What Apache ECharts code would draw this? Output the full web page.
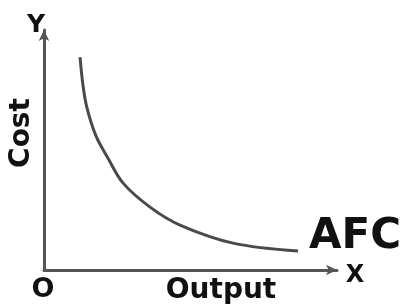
<!DOCTYPE html>
<html>
<head>
<meta charset="utf-8">
<script src="https://cdn.jsdelivr.net/npm/echarts@6/dist/echarts.min.js"></script>
<style>
  html, body { margin: 0; padding: 0; background: #fff; }
  #main { width: 401px; height: 307px; }
</style>
</head>
<body>
<div id="main"></div>
<script>
// AFC curve (output, cost) on a 0-100 scale
var output = [12.3, 13.3, 14.6, 17.7, 21.8, 27.0, 36.2, 46.4, 64.5, 86.7];
var cost = [88.7, 77.0, 67.9, 56.0, 46.7, 36.2, 26.2, 18.7, 11.2, 7.9];
var curveName = 'AFC';
var xName = 'Output';
var yName = 'Cost';

var chartDom = document.getElementById('main');
var myChart = echarts.init(chartDom);

var font = '"DejaVu Sans", Verdana, sans-serif';
var axisColor = '#555';
var textColor = '#111';

var option = {
  animation: false,
  grid: { left: 44, right: 64, top: 30, bottom: 37 },
  xAxis: {
    type: 'value',
    min: 0,
    max: 100,
    axisLine: { lineStyle: { color: axisColor, width: 3 }, symbol: ['none', 'arrow'], symbolSize: [8, 11] },
    axisTick: { show: false },
    axisLabel: { show: false },
    splitLine: { show: false }
  },
  yAxis: {
    type: 'value',
    min: 0,
    max: 100,
    axisLine: { lineStyle: { color: axisColor, width: 3 }, symbol: ['none', 'arrow'], symbolSize: [8, 11] },
    axisTick: { show: false },
    axisLabel: { show: false },
    splitLine: { show: false }
  },
  series: [{
    type: 'line',
    name: curveName,
    data: output.map(function (x, i) { return [x, cost[i]]; }),
    smooth: 0.35,
    showSymbol: false,
    lineStyle: { color: '#4a4a4a', width: 3 },
    endLabel: {
      show: true,
      formatter: curveName,
      fontFamily: font,
      fontWeight: 'bold',
      fontSize: 42,
      color: textColor,
      offset: [3, -14]
    }
  }],
  graphic: [
    { type: 'text', x: 36, y: 25, style: { text: 'Y', font: 'bold 25px ' + font, fill: textColor, textAlign: 'center', textVerticalAlign: 'middle' } },
    { type: 'text', x: 355, y: 276, style: { text: 'X', font: 'bold 24px ' + font, fill: textColor, textAlign: 'center', textVerticalAlign: 'middle' } },
    { type: 'text', x: 43, y: 290, style: { text: 'O', font: 'bold 27px ' + font, fill: textColor, textAlign: 'center', textVerticalAlign: 'middle' } },
    { type: 'text', x: 221, y: 291, style: { text: xName, font: 'bold 28px ' + font, fill: textColor, textAlign: 'center', textVerticalAlign: 'middle' } },
    { type: 'text', x: 22, y: 133, rotation: Math.PI / 2, style: { text: yName, font: 'bold 28px ' + font, fill: textColor, textAlign: 'center', textVerticalAlign: 'middle' } }
  ]
};

myChart.setOption(option);
</script>
</body>
</html>
